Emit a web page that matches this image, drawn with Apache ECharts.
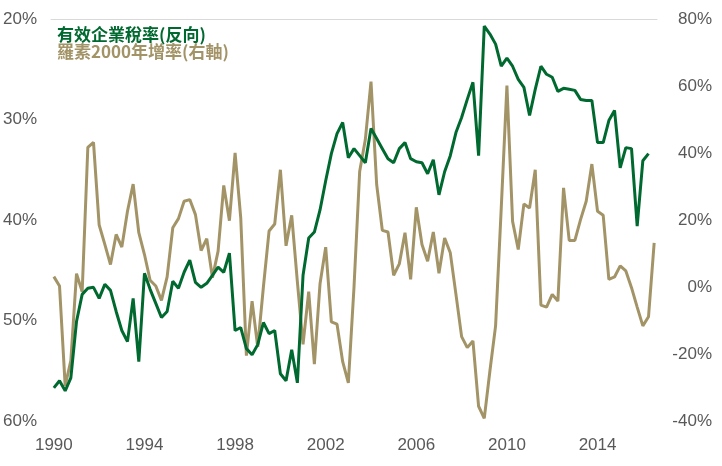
<!DOCTYPE html>
<html>
<head>
<meta charset="utf-8">
<script src="https://cdn.jsdelivr.net/npm/echarts@6/dist/echarts.min.js"></script>
<style>
    html, body { margin: 0; padding: 0; background: #fff; }
    #chart { width: 722px; height: 466px; }
</style>
</head>
<body>
<div id="chart"></div>
<script>
    // 季度資料 1990Q1 起
    const startYear = 1990
    const quarterCount = 107
    const yearTicks = ['1990', '1994', '1998', '2002', '2006', '2010', '2014']

    // 有效企業稅率 (%), 左軸反向
    const taxRate = [
        56.7, 56.0, 57.0, 55.7, 50.1, 47.4, 46.8, 46.7, 47.8, 46.4,
        47.0, 49.1, 51.0, 52.1, 47.8, 54.1, 45.3, 46.9, 48.3, 49.7,
        49.1, 46.1, 46.8, 45.2, 44.0, 46.2, 46.7, 46.3, 45.5, 44.7,
        45.2, 43.3, 51.0, 50.7, 52.8, 53.4, 52.4, 50.2, 51.3, 51.0,
        55.3, 56.0, 52.9, 56.2, 45.5, 41.8, 41.2, 39.0, 36.1, 33.4,
        31.4, 30.3, 33.8, 32.9, 33.6, 34.3, 30.9, 31.9, 32.9, 33.9,
        34.3, 32.9, 32.3, 33.9, 34.2, 34.3, 35.4, 34.0, 37.5, 35.2,
        33.6, 31.3, 29.8, 28.0, 26.3, 33.6, 20.7, 21.5, 22.5, 24.7,
        23.9, 24.7, 26.0, 26.8, 29.6, 27.0, 24.7, 25.5, 25.8, 27.2,
        26.9, 27.0, 27.1, 28.0, 28.1, 28.1, 32.3, 32.3, 30.1, 29.1,
        34.8, 32.8, 32.9, 40.6, 34.1, 33.4
    ]

    // 羅素2000 年增率 (%), 右軸
    const russellYoY = [
        3.1, 0.3, -29.5, -22.0, 4.0, -1.4, 41.7, 43.2, 18.5, 12.7,
        6.7, 15.7, 11.9, 22.6, 30.7, 16.2, 9.7, 2.0, 0.3, -4.0,
        3.0, 17.7, 20.4, 25.6, 26.1, 21.6, 10.9, 14.4, 2.8, 10.7,
        30.3, 19.8, 40.0, 20.6, -20.5, -4.2, -17.9, 0.0, 16.7, 18.8,
        35.0, 12.3, 21.4, 1.5, -17.1, -1.4, -23.0, 1.0, 11.9, -10.4,
        -11.1, -22.3, -28.6, 0.0, 34.5, 44.0, 61.3, 30.6, 16.9, 16.4,
        3.5, 6.9, 16.2, 2.3, 23.8, 12.7, 7.7, 16.4, 4.1, 14.6,
        10.2, -2.2, -14.8, -18.1, -16.1, -35.6, -39.2, -25.0, -11.6, 23.6,
        60.1, 19.6, 11.2, 24.8, 23.6, 35.0, -5.4, -6.0, -2.2, -4.2,
        29.6, 13.9, 13.9, 20.1, 25.6, 36.7, 22.6, 21.4, 2.3, 3.0,
        6.3, 4.8, -0.2, -6.0, -11.6, -8.9, 13.2
    ]

    const quarters = []
    for (let i = 0; i < quarterCount; i++) {
        quarters.push((startYear + Math.floor(i / 4)) + 'Q' + (i % 4 + 1))
    }

    const green = '#00692F'
    const tan = '#A39467'
    const labelFont = "'Liberation Sans Narrow', 'Liberation Sans', sans-serif"

    const myChart = echarts.init(document.getElementById('chart'))
    const option = {
        animation: false,
        backgroundColor: '#fff',
        grid: {
            left: 51,
            right: 65,
            top: 19,
            bottom: 45
        },
        legend: {
            orient: 'vertical',
            left: 46,
            top: 21,
            itemWidth: 0,
            itemHeight: 0,
            itemGap: 0,
            selectedMode: false,
            textStyle: {
                fontFamily: "'Noto Sans CJK TC', sans-serif",
                fontWeight: 'bold',
                fontSize: 17,
                lineHeight: 17
            },
            data: [
                { name: '有效企業稅率(反向)', textStyle: { color: green } },
                { name: '羅素2000年增率(右軸)', textStyle: { color: tan } }
            ]
        },
        xAxis: [
            {
                type: 'category',
                data: quarters,
                position: 'bottom',
                axisLine: { show: false },
                axisTick: { show: false },
                axisLabel: {
                    interval: 15,
                    margin: 16,
                    color: '#595959',
                    fontSize: 17,
                    fontFamily: labelFont,
                    formatter: function (v) {
                        const y = v.slice(0, 4)
                        return yearTicks.indexOf(y) >= 0 ? y : ''
                    }
                }
            },
            {
                type: 'category',
                data: quarters,
                position: 'top',
                axisLine: { show: true, lineStyle: { color: '#D9D9D9', width: 1 } },
                axisTick: { show: false },
                axisLabel: { show: false }
            }
        ],
        yAxis: [
            {
                type: 'value',
                inverse: true,
                min: 20,
                max: 60,
                interval: 10,
                splitLine: { show: false },
                axisLine: { show: false },
                axisTick: { show: false },
                axisLabel: {
                    margin: 14,
                    color: '#595959',
                    fontSize: 17,
                    fontFamily: labelFont,
                    formatter: '{value}%'
                }
            },
            {
                type: 'value',
                min: -40,
                max: 80,
                interval: 20,
                position: 'right',
                splitLine: { show: false },
                axisLine: { show: false },
                axisTick: { show: false },
                axisLabel: {
                    align: 'right',
                    margin: 55,
                    color: '#595959',
                    fontSize: 17,
                    fontFamily: labelFont,
                    formatter: '{value}%'
                }
            }
        ],
        series: [
            {
                name: '有效企業稅率(反向)',
                type: 'line',
                yAxisIndex: 0,
                data: taxRate,
                symbol: 'none',
                lineStyle: { color: green, width: 3 },
                itemStyle: { color: green },
                z: 3
            },
            {
                name: '羅素2000年增率(右軸)',
                type: 'line',
                yAxisIndex: 1,
                data: russellYoY,
                symbol: 'none',
                lineStyle: { color: tan, width: 3 },
                itemStyle: { color: tan },
                z: 2
            }
        ]
    }
    option && myChart.setOption(option)
</script>
</body>
</html>
